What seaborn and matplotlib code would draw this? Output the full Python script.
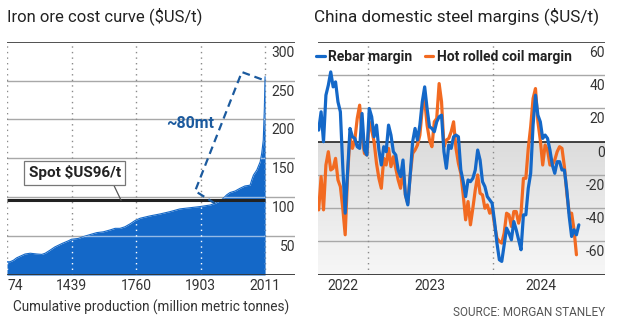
import numpy as np
import pandas as pd
import matplotlib
matplotlib.use("Agg")
import matplotlib.pyplot as plt
import matplotlib.dates as mdates
from matplotlib.colors import LinearSegmentedColormap
import seaborn as sns

# ---------------- Iron ore cost curve ----------------
# position along the curve (% of cumulative supply) and cash cost (US$/t)
supply_share = [0, 1.2, 2.5, 3.7, 5, 7, 9, 11.5, 13.5, 14.8, 16.7, 18.5, 21.3,
                23.8, 25, 27.6, 30.2, 32.2, 34.8, 37.3, 40, 41.9, 43.8, 45.7,
                47.8, 49.6, 51.6, 55.4, 59.3, 63.2, 67, 70.9, 74.8, 78.7, 80.6,
                82.6, 83.8, 85.1, 86.4, 88.4, 90.3, 92.2, 94.2, 94.8, 95.5,
                96.8, 98.1, 98.7, 99.3, 99.7, 100]
cash_cost = [17, 17, 19, 22, 24, 27, 28, 27, 26.5, 28, 32, 36, 40.5,
             44, 46, 47, 50, 52, 54.5, 55.5, 58, 60, 60, 62,
             66, 70, 73, 76, 78.5, 81.5, 85, 86.5, 88, 90, 92,
             95.5, 98.5, 103, 106, 108, 111.5, 114.5, 115.5, 122, 128.5,
             135, 145.5, 156.5, 173.5, 212, 255]
supply_tick_share = [0, 25, 50, 75, 100]
supply_tick_labels = ["74", "1439", "1760", "1903", "2011"]
cost_ticks = [50, 100, 150, 200, 250, 300]
spot_price = 96
# outline of the high-cost tail (share %, US$/t)
tail_share = [80.6, 72.9, 91.0, 100.0]
tail_cost = [92, 108, 261, 250]

# ---------------- China steel margins (weekly, US$/t) ----------------
margin_start = "2022-08-12"
rebar_margin = [7, 18, 0, 28, 34, 42, 33, 36, 24, 18,
                -15, -43, -18, 8, 3, 2, -3, -4, 17, -5,
                -8, 20, 15, 3, 10, -5, -14, -3, -6, 10,
                4, -6, -8, -17, -21, -11, -32, -38, -20, 0,
                8, 1, 10, 24, 33, 20, 9, 8, 6, 12,
                15, 16, -6, -16, -2, -4, 3, 4, 3, -17,
                -24, -33, -23, -24, -22, -17, -5, -11, -24, -27,
                -33, -35, -37, -48, -61, -71, -72, -62, -52, -55,
                -59, -48, -53, -59, -65, -44, -44, -28, -19, 10,
                28, 16, 12, 2, 4, 2, -5, -14, -19, -12,
                -12, -17, -17, -29, -45, -57, -53, -56, -50]
hrc_margin = [-41, -21, -41, -14, -6, -17, -16, -10, -23, -27,
              -40, -56, -20, 3, -4, 1, 14, 22, 3, -7,
              -8, 12, 7, 0, -13, -22, -28, -10, -14, -4,
              -15, -9, -16, -23, -28, -17, -32, -37, -20, -7,
              -5, -2, 4, 20, 25, 10, 1, -3, 12, 14,
              35, 24, -3, 1, 2, 6, 12, -4, -13, -19,
              -32, -47, -36, -50, -40, -29, -20, -31, -32, -40,
              -38, -43, -40, -50, -58, -60, -61, -55, -43, -44,
              -51, -42, -42, -49, -43, -22, -22, -4, 9, 26,
              32, 12, 1, -14, -2, -5, -14, -14, -11, -6,
              -3, -4, -15, -31, -43, -43, -53, -68]
margin_ticks = [-60, -40, -20, 0, 20, 40, 60]
year_labels = ["2022", "2023", "2024"]
year_label_dates = ["2022-10-20", "2023-07-02", "2024-05-19"]
year_starts = ["2023-01-01", "2024-01-01"]

BLUE = "#1468c8"
DARK_BLUE = "#1b5a9e"
ORANGE = "#f26a21"
GRID = "#a8a8a8"
INK = "#222222"

sns.set_theme(style="white")
plt.rcParams["font.family"] = ["Roboto", "DejaVu Sans"]
plt.rcParams["text.color"] = INK

W, H = 620, 325
fig = plt.figure(figsize=(W / 100, H / 100), dpi=100)
fig.patch.set_facecolor("white")
ax1 = fig.add_axes([7 / W, 50 / H, 288 / W, 233.3 / H])
ax2 = fig.add_axes([318 / W, 50.3 / H, 287 / W, 232.7 / H])

for ax in (ax1, ax2):
    ax.set_facecolor("white")
    for s in ax.spines.values():
        s.set_visible(False)
    ax.tick_params(axis="both", length=0)

# ---------- left: cost curve ----------
cost_df = pd.DataFrame({"share": supply_share, "cost": cash_cost})
ax1.set_xlim(0, 111.6)
ax1.set_ylim(0, 300)

for v in cost_ticks[:-1]:
    ax1.axhline(v, color=GRID, lw=1, zorder=1)
ax1.axhline(300, color="#333333", lw=1.2, zorder=1)
for s in supply_tick_share:
    ax1.axvline(s, color="#8a8a8a", lw=1, ls=(0, (1, 3)), zorder=1)

fill = ax1.fill_between(cost_df["share"], 0, cost_df["cost"], color=BLUE,
                        lw=0, zorder=2)
sns.lineplot(data=cost_df, x="share", y="cost", color=BLUE, lw=0.8,
             ax=ax1, zorder=2)
clip = fill.get_paths()[0]
for v in cost_ticks[:-1]:
    ln = ax1.axhline(v, color="white", lw=1, alpha=0.55, zorder=3)
    ln.set_clip_path(clip, ax1.transData)
for s in supply_tick_share:
    ln = ax1.axvline(s, color="white", lw=1, ls=(0, (1, 3)), zorder=3)
    ln.set_clip_path(clip, ax1.transData)

ax1.axhline(0, color="#333333", lw=1.3, zorder=5)
ax1.plot([0, 100], [spot_price, spot_price], color=INK, lw=2.2, zorder=6,
         solid_capstyle="butt")

ax1.plot(tail_share, tail_cost, color=DARK_BLUE, lw=1.6, ls=(0, (3.5, 2.2)),
         zorder=6)
ax1.text(70.9, 195, "~80mt", color=DARK_BLUE, fontsize=11.5,
         fontweight="bold", ha="center", va="center", zorder=7)

ax1.annotate("Spot $US96/t", xy=(44.2, spot_price), xytext=(26.2, 131.5),
             ha="center", va="center", fontsize=11, fontweight="bold",
             color=INK, zorder=8,
             bbox=dict(boxstyle="square,pad=0.3", fc="white", ec="#777777",
                       lw=0.9),
             arrowprops=dict(arrowstyle="-", color="#555555", lw=0.9,
                             relpos=(0.9, 0), shrinkA=0, shrinkB=0))

for v in cost_ticks:
    ax1.annotate(str(v), xy=(1, v), xycoords=("axes fraction", "data"),
                 xytext=(0, -11), textcoords="offset pixels", ha="right",
                 va="center", fontsize=10, color="#333333")

ax1.set_xticks(supply_tick_share, supply_tick_labels)
ax1.tick_params(axis="x", pad=3, labelsize=10, labelcolor="#333333")
ax1.get_xticklabels()[0].set_horizontalalignment("left")
ax1.set_yticks([])
ax1.set_ylabel("")
ax1.set_xlabel("Cumulative production (million metric tonnes)",
               fontsize=9.8, color="#333333", labelpad=5)

# ---------- right: steel margins ----------
rebar_df = pd.DataFrame({
    "date": pd.date_range(margin_start, periods=len(rebar_margin), freq="7D"),
    "margin": rebar_margin})
hrc_df = pd.DataFrame({
    "date": pd.date_range(margin_start, periods=len(hrc_margin), freq="7D"),
    "margin": hrc_margin})

x0 = mdates.date2num(pd.Timestamp("2022-08-10"))
x1 = mdates.date2num(pd.Timestamp("2024-11-21"))

shade = LinearSegmentedColormap.from_list("shade", ["#dcdcdc", "#f7f7f7"])
ax2.imshow(np.linspace(0, 1, 256).reshape(-1, 1), extent=[x0, x1, -80, 0],
           aspect="auto", cmap=shade, zorder=0, origin="upper")

for v in margin_ticks:
    if v not in (0, 60):
        ax2.axhline(v, color=GRID, lw=1, zorder=1)
ax2.axhline(60, color="#333333", lw=1.2, zorder=1)
ax2.axhline(-80, color="#333333", lw=1.3, zorder=5)
for d in year_starts:
    ax2.axvline(mdates.date2num(pd.Timestamp(d)), color="#8a8a8a", lw=1,
                ls=(0, (1, 3)), zorder=1)
ax2.axhline(0, color=INK, lw=1.2, zorder=2)

sns.lineplot(data=hrc_df, x="date", y="margin", color=ORANGE, lw=2.3,
             ax=ax2, zorder=3, label="Hot rolled coil margin")
sns.lineplot(data=rebar_df, x="date", y="margin", color=BLUE, lw=2.3,
             ax=ax2, zorder=4, label="Rebar margin")
ax2.set_xlim(x0, x1)
ax2.set_ylim(-80, 60)

handles, labels = ax2.get_legend_handles_labels()
leg = ax2.legend(handles[::-1], labels[::-1], ncol=2, loc="upper left",
                 bbox_to_anchor=(-0.035, 1.0), frameon=False,
                 handlelength=0.6, handletextpad=0.25, columnspacing=0.9,
                 borderaxespad=0.2, prop={"weight": "bold", "size": 10})
for t in leg.get_texts():
    t.set_color(INK)

for v in margin_ticks:
    ax2.annotate(str(v), xy=(1, v), xycoords=("axes fraction", "data"),
                 xytext=(0, -11), textcoords="offset pixels", ha="right",
                 va="center", fontsize=10, color="#333333")

ax2.set_xticks([mdates.date2num(pd.Timestamp(d)) for d in year_label_dates],
               year_labels)
ax2.tick_params(axis="x", pad=3, labelsize=10, labelcolor="#333333")
ax2.set_yticks([])
ax2.set_xlabel("")
ax2.set_ylabel("")

# ---------- titles and source ----------
fig.text(7 / W, 1 - 16.5 / H, "Iron ore cost curve ($US/t)", fontsize=12,
         va="center", ha="left", color=INK)
fig.text(314 / W, 1 - 16.5 / H, "China domestic steel margins ($US/t)",
         fontsize=12.3, va="center", ha="left", color=INK)
fig.text(605 / W, 1 - 313 / H, "SOURCE: MORGAN STANLEY", fontsize=8.5,
         va="center", ha="right", color="#555555")

fig.savefig("out.png", dpi=100, facecolor="white")
